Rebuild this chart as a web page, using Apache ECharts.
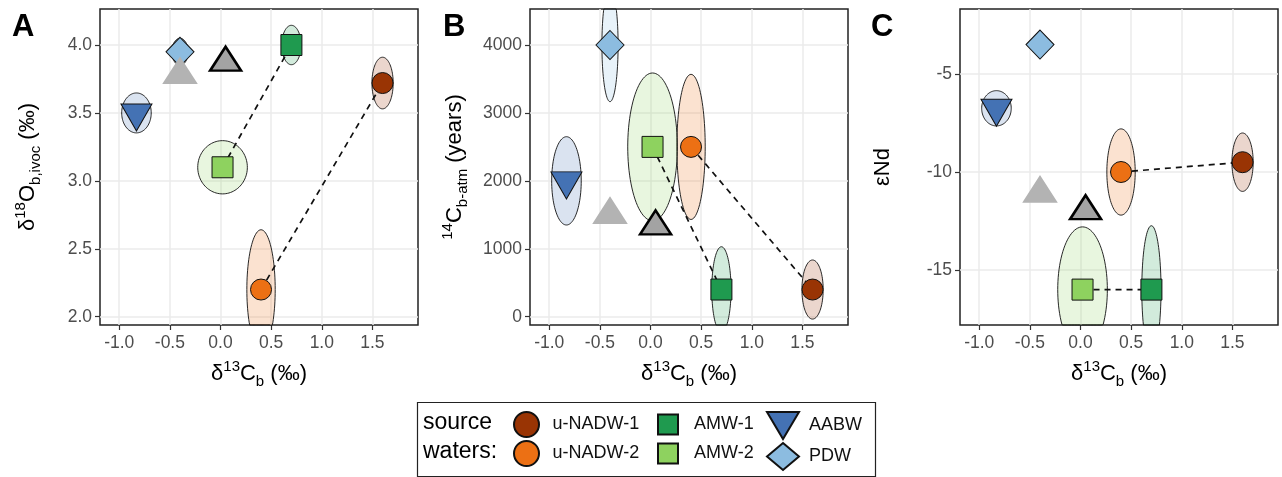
<!DOCTYPE html>
<html>
<head>
<meta charset="utf-8">
<script src="https://cdn.jsdelivr.net/npm/echarts@6/dist/echarts.min.js"></script>
<style>
  html, body { margin: 0; padding: 0; background: #fff; }
  #chart { width: 1282px; height: 477px; }
</style>
</head>
<body>
<div id="chart"></div>
<script>
// source waters
const sources = ["u-NADW-1", "u-NADW-2", "AMW-1", "AMW-2", "AABW", "PDW"];
const colors = ["#993404", "#ec7014", "#1f9a4f", "#8ed25f", "#4472b4", "#8cbce0"];

// d13C (x on every panel) with its uncertainty
const d13C = [1.6, 0.4, 0.7, 0.02, -0.83, -0.4];
const d13CErr = [0.105, 0.14, 0.095, 0.245, 0.146, 0.08];

// panel values and uncertainties
const d18O = [3.72, 2.2, 4.0, 3.1, 3.5, 3.95];
const d18OErr = [0.19, 0.44, 0.145, 0.196, 0.147, 0.1];
const c14Age = [400, 2500, 400, 2500, 2000, 4000];
const c14Err = [435, 1068, 630, 1088, 650, 834];
const eNd = [-9.5, -10, -16, -16, -6.75, -3.5];
const eNdErr = [1.49, 2.2, 3.26, 3.2, 0.9, 0.3];

// grey mixture triangles (dark = black outline, light = no outline)
const mixDark = { x: 0.05, A: 3.87, B: 1330, C: -12 };
const mixLight = { x: -0.4, A: 3.78, B: 1500, C: -11.1 };

// dashed links: [from, to] as source indices
const links = [[3, 2], [1, 0]];

// ticks
const xTicks = [-1, -0.5, 0, 0.5, 1, 1.5];
const yTicksA = [2, 2.5, 3, 3.5, 4];
const yTicksB = [0, 1000, 2000, 3000, 4000];
const yTicksC = [-15, -10, -5];

const FONT = "Liberation Sans";
const downTri = "path://M0,0L10,0L5,8.66Z";
const symbols = ["circle", "circle", "rect", "rect", downTri, "diamond"];
const symSizes = [21, 21, 21, 21, [31, 27], [28, 29]];
const symOffsets = [0, 0, 0, 0, [0, 4.5], 0];

function tint(hex, a) {
  const n = parseInt(hex.slice(1), 16);
  return `rgba(${(n >> 16) & 255},${(n >> 8) & 255},${n & 255},${a})`;
}

const chart = echarts.init(document.getElementById("chart"));

const panels = [
  { y: d18O, err: d18OErr, key: "A", min: 1.939, max: 4.265, ticks: yTicksA, step: 0.5 },
  { y: c14Age, err: c14Err, key: "B", min: -122, max: 4530, ticks: yTicksB, step: 1000 },
  { y: eNd, err: eNdErr, key: "C", min: -17.806, max: -1.684, ticks: yTicksC, step: 5 },
];
const lefts = [100, 530, 960];

const rich = {
  n: { fontSize: 22, lineHeight: 30, fontFamily: FONT, color: "#000", verticalAlign: "middle" },
  sup: { fontSize: 15, lineHeight: 17, fontFamily: FONT, color: "#000", verticalAlign: "top" },
  sub: { fontSize: 15, lineHeight: 13, fontFamily: FONT, color: "#000", verticalAlign: "bottom" },
};
const yNames = [
  "{n|δ}{sup|18}{n|O}{sub|b,ivoc}{n| (‰)}",
  "{sup|14}{n|C}{sub|b-atm}{n| (years)}",
  "{n|εNd}",
];
const yGaps = [57, 60, 62];

const grids = [], xAxes = [], yAxes = [], series = [];

panels.forEach((p, k) => {
  grids.push({
    left: lefts[k], top: 9, width: 318, height: 316,
    show: true, borderColor: "#222", borderWidth: 1.5, backgroundColor: "#fff",
  });
  xAxes.push({
    gridIndex: k, type: "value", min: -1.19, max: 1.95,
    splitNumber: 6, minInterval: 0.5, maxInterval: 0.5,
    axisLine: { show: false, onZero: false },
    axisTick: { show: true, length: 5, customValues: xTicks, lineStyle: { color: "#333", width: 1.2 } },
    axisLabel: { customValues: xTicks, margin: 9, fontSize: 17.5, fontFamily: FONT, color: "#4d4d4d",
      formatter: (v) => v.toFixed(1) },
    splitLine: { show: true, lineStyle: { color: "#ebebeb", width: 1.5 } },
    name: "{n|δ}{sup|13}{n|C}{sub|b}{n| (‰)}", nameLocation: "middle", nameGap: 34,
    nameTextStyle: { rich },
  });
  yAxes.push({
    gridIndex: k, type: "value", min: p.min, max: p.max,
    minInterval: p.step, maxInterval: p.step,
    axisLine: { show: false, onZero: false },
    axisTick: { show: true, length: 5, customValues: p.ticks, lineStyle: { color: "#333", width: 1.2 } },
    axisLabel: { customValues: p.ticks, margin: 8, fontSize: 17.5, fontFamily: FONT, color: "#4d4d4d",
      formatter: (v) => (k === 0 ? v.toFixed(1) : String(v)) },
    splitLine: { show: true, lineStyle: { color: "#ebebeb", width: 1.5 } },
    name: yNames[k], nameLocation: "middle", nameGap: yGaps[k], nameRotate: 90,
    nameTextStyle: { rich },
  });

  // uncertainty ellipses
  series.push({
    type: "custom", xAxisIndex: k, yAxisIndex: k, z: 2, silent: true,
    data: sources.map((s, i) => [d13C[i], p.y[i], d13CErr[i], p.err[i], i]),
    renderItem: (params, api) => {
      const cx = api.value(0), cy = api.value(1), rx = api.value(2), ry = api.value(3);
      const pts = [];
      for (let t = 0; t < 96; t++) {
        const a = (t / 96) * Math.PI * 2;
        pts.push(api.coord([cx + rx * Math.cos(a), cy + ry * Math.sin(a)]));
      }
      const cs = params.coordSys;
      const clipped = pts.map(([x, y]) => [
        Math.min(Math.max(x, cs.x), cs.x + cs.width),
        Math.min(Math.max(y, cs.y), cs.y + cs.height),
      ]);
      return {
        type: "polygon",
        shape: { points: clipped },
        style: { fill: tint(colors[api.value(4)], 0.2), stroke: "#111", lineWidth: 0.9 },
      };
    },
  });

  // dashed links
  links.forEach(([a, b]) => {
    series.push({
      type: "line", xAxisIndex: k, yAxisIndex: k, z: 3, silent: true,
      symbol: "none",
      data: [[d13C[a], p.y[a]], [d13C[b], p.y[b]]],
      lineStyle: { color: "#111", width: 1.7, type: [6, 5] },
    });
  });

  // source water markers
  sources.forEach((s, i) => {
    series.push({
      name: s, type: "scatter", xAxisIndex: k, yAxisIndex: k, z: 5,
      symbol: symbols[i], symbolSize: symSizes[i], symbolOffset: symOffsets[i],
      data: [[d13C[i], p.y[i]]],
      itemStyle: { color: colors[i], borderColor: "#111", borderWidth: 1, opacity: 1 },
    });
  });

  // grey mixture triangles
  series.push({
    name: "mix-light", type: "scatter", xAxisIndex: k, yAxisIndex: k, z: 6,
    symbol: "triangle", symbolSize: [31, 24], symbolOffset: [0, -4],
    data: [[mixLight.x, mixLight[p.key]]],
    itemStyle: { color: "#b3b3b3", borderColor: "#b3b3b3", borderWidth: 2.5, opacity: 1 },
  });
  series.push({
    name: "mix-dark", type: "scatter", xAxisIndex: k, yAxisIndex: k, z: 7,
    symbol: "triangle", symbolSize: [31, 24], symbolOffset: [0, -4],
    data: [[mixDark.x, mixDark[p.key]]],
    itemStyle: { color: "#a3a3a3", borderColor: "#000", borderWidth: 2.5, opacity: 1 },
  });
});

const legendText = { fontSize: 18, fontFamily: FONT, color: "#111", lineHeight: 27 };
const legends = [
  { left: 513, data: [{ name: "u-NADW-1", icon: "circle" }, { name: "u-NADW-2", icon: "circle" }], w: 26, h: 25, pad: 8 },
  { left: 657, data: [{ name: "AMW-1", icon: "rect" }, { name: "AMW-2", icon: "rect" }], w: 20, h: 20, pad: 11 },
  { left: 766, data: [{ name: "AABW", icon: downTri }, { name: "PDW", icon: "diamond" }], w: 32, h: 27, pad: 5 },
].map((l) => ({
  left: l.left, top: 411, orient: "vertical", padding: 0, itemGap: 2,
  itemWidth: l.w, itemHeight: l.h, symbolKeepAspect: false, selectedMode: false,
  data: l.data, textStyle: Object.assign({}, legendText, { padding: [0, 0, 0, l.pad] }),
}));

chart.setOption({
  animation: false,
  backgroundColor: "#fff",
  grid: grids,
  xAxis: xAxes,
  yAxis: yAxes,
  legend: legends,
  series: series,
  graphic: [
    { type: "text", left: 12, top: 12, style: { text: "A", font: `bold 31px "${FONT}"`, fill: "#000" } },
    { type: "text", left: 443, top: 12, style: { text: "B", font: `bold 31px "${FONT}"`, fill: "#000" } },
    { type: "text", left: 871, top: 12, style: { text: "C", font: `bold 31px "${FONT}"`, fill: "#000" } },
    { type: "rect", left: 415, top: 400, shape: { width: 458, height: 74 },
      style: { fill: "none", stroke: "#222", lineWidth: 1.2 } },
    { type: "text", left: 423, top: 408,
      style: { text: "source\nwaters:", font: `23px "${FONT}"`, lineHeight: 29, fill: "#000" } },
  ],
});
</script>
</body>
</html>
